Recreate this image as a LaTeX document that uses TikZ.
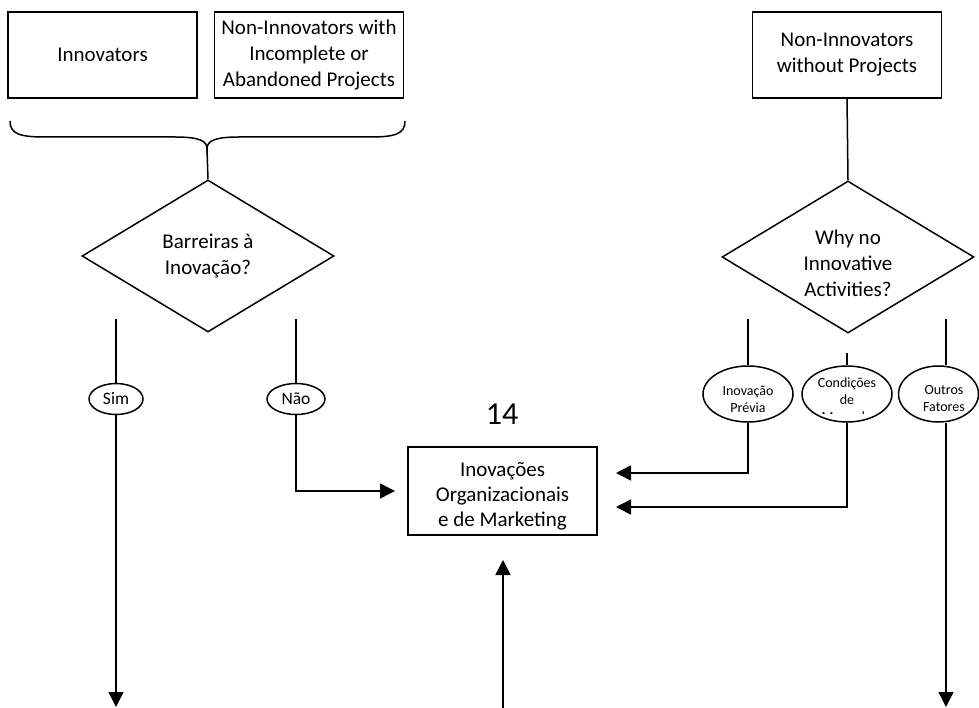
\documentclass[tikz,border=0pt]{standalone}
\usepackage{fontspec}
\setmainfont{Carlito}
\usetikzlibrary{arrows.meta,shapes.geometric}
\tikzset{
	link/.style={line width=1.5pt},
	flow/.style={link, -{Triangle[length=15pt,width=15pt]}},
	group/.style={draw, line width=1.5pt, minimum width=189pt, minimum height=86pt, inner sep=0pt, align=center, font=\fontsize{21}{26}\selectfont},
	ask/.style={draw, diamond, line width=1.5pt, minimum width=252pt, minimum height=152pt, inner sep=0pt, align=center, font=\fontsize{21}{26}\selectfont},
	asktext/.style={align=center, inner sep=0pt, font=\fontsize{21}{26}\selectfont},
	answer/.style={draw, ellipse, line width=1.5pt, minimum width=54pt, minimum height=31pt, inner sep=0pt, font=\fontsize{17.5}{21}\selectfont},
	reason/.style={draw, ellipse, line width=1.5pt, minimum width=90pt, minimum height=56pt, inner sep=0pt},
	reasontext/.style={align=center, inner sep=0pt, font=\fontsize{14}{17}\selectfont}
}

\begin{document}
\begin{tikzpicture}[x=1pt,y=-1pt]
	\useasboundingbox (0,0) rectangle (979,708);

	\node[group] (innov) at (102.5,55) {Innovators};
	\node[group] (incompl) at (309,55) {Non-Innovators with\\Incomplete or\\Abandoned Projects};
	\node[group] (noproj) at (847,55) {Non-Innovators\\without Projects};

	\coordinate (bracetip) at (207,149);
	\draw[link] (10,121) .. controls (10,134) and (20,137) .. (45,137) -- (175,137) .. controls (200,137) and (207,141) .. (bracetip) .. controls (207,141) and (214,137) .. (239,137) -- (370,137) .. controls (395,137) and (405,134) .. (405,121);

	\node[ask] (barr) at (208,256) {Barreiras à\\Inovação?};
	\node[ask] (why) at (848,257) {};
	\node[asktext] (whytext) at (848,263) {Why no\\Innovative\\Activities?};
	\draw[link] (bracetip) -- (barr.north);
	\draw[link] (noproj.south) -- (why.north);

	\node[answer] (sim) at (116,399) {Sim};
	\node[answer, minimum width=58pt] (nao) at (296,399) {Não};
	\coordinate (simtop) at (116,319);
	\coordinate (naotop) at (296,319);
	\draw[link] (simtop) -- (sim.north);
	\draw[link] (naotop) -- (nao.north);

	\node[reason] (previa) at (748,394) {};
	\node[reason] (mercado) at (847,394) {};
	\node[reason, minimum width=80pt] (outros) at (938.5,394) {};
	\node[reasontext] (previatext) at (748,399) {Inovação\\Prévia};
	\node[reasontext] (outrostext) at (944,399) {Outros\\Fatores};
	\begin{scope}
		\clip (800,360) rectangle (895,413.5);
		\node[reasontext, anchor=north] (mercadotext) at (847,377.5) {Condições\\de\\Mercado};
	\end{scope}
	\coordinate (previatop) at (748,319);
	\coordinate (mercadotop) at (847,353);
	\coordinate (outrostop) at (946,319);
	\draw[link] (previatop) -- (previa.north);
	\draw[link] (mercadotop) -- (mercado.north);
	\draw[link] (outrostop) -- (outrostop |- outros.north);

	\node[group, minimum height=88pt] (orgmkt) at (502.5,491) {};
	\node[asktext, font=\fontsize{21}{25}\selectfont] (orgmkttext) at (502.5,496) {Inovações\\Organizacionais\\e de Marketing};
	\node[font=\fontsize{32}{38}\selectfont, inner sep=0pt] (num) at (502,414) {14};

	\coordinate (naoin) at (395,491);
	\coordinate (previain) at (616,473);
	\coordinate (mercadoin) at (616,507);
	\coordinate (simend) at (116,707);
	\coordinate (outrosend) at (946,707);
	\coordinate (bottomstart) at (503,708);
	\coordinate (bottomin) at (503,560);

	\draw[flow] (nao.south) |- (naoin);
	\draw[flow] (previa.south) |- (previain);
	\draw[flow] (mercado.south) |- (mercadoin);
	\draw[flow] (sim.south) -- (simend);
	\draw[flow] (outrosend |- outros.south) -- (outrosend);
	\draw[flow] (bottomstart) -- (bottomin);
\end{tikzpicture}
\end{document}
